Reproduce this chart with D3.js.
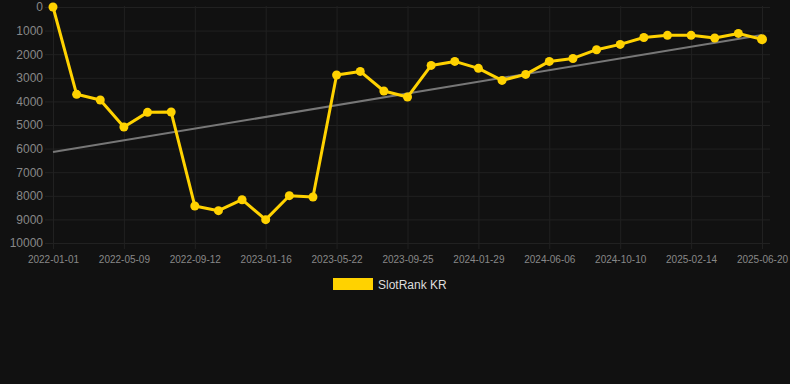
<!DOCTYPE html>
<html>
<head>
<meta charset="utf-8">
<script src="https://cdn.jsdelivr.net/npm/d3@7"></script>
<style>
html, body { margin: 0; padding: 0; background: #111111; }
svg { display: block; font-family: "Liberation Sans", Arial, Helvetica, sans-serif; }
</style>
</head>
<body>
<svg id="chart" width="790" height="384"></svg>
<script>
const dates = [
  "2022-01-01","2022-02-12","2022-03-26","2022-05-09","2022-06-20","2022-08-01",
  "2022-09-12","2022-10-24","2022-12-05","2023-01-16","2023-02-27","2023-04-10",
  "2023-05-22","2023-07-03","2023-08-14","2023-09-25","2023-11-06","2023-12-18",
  "2024-01-29","2024-03-11","2024-04-22","2024-06-06","2024-07-18","2024-08-29",
  "2024-10-10","2024-11-21","2025-01-02","2025-02-14","2025-03-28","2025-05-09",
  "2025-06-20"
];
const ranks = [
  0, 3700, 3940, 5085, 4465, 4450,
  8430, 8630, 8165, 9010, 7995, 8050,
  2880, 2730, 3560, 3815, 2475, 2305,
  2600, 3110, 2855, 2305, 2180, 1810,
  1585, 1290, 1200, 1200, 1315, 1120,
  1370
];
const xTickLabels = ["2022-01-01","2022-05-09","2022-09-12","2023-01-16","2023-05-22",
  "2023-09-25","2024-01-29","2024-06-06","2024-10-10","2025-02-14","2025-06-20"];
const yTicks = [0,1000,2000,3000,4000,5000,6000,7000,8000,9000,10000];
const seriesName = "SlotRank KR";

(function () {
const svg = d3.select("#chart");
const mLeft = 53, mRight = 762, mTop = 7, mBottom = 243;
const x = d3.scalePoint().domain(dates).range([mLeft, mRight]);
const y = d3.scaleLinear().domain([0, 10000]).range([mTop, mBottom]);

const gridColor = "#212121";
const labelColor = "#888888";
const lineColor = "#ffd200";

// horizontal grid
const yAxis = d3.axisLeft(y).tickValues(yTicks).tickSize(0).tickPadding(0).tickFormat(d3.format("d"));
const gy = svg.append("g").attr("transform", "translate(45,0)").call(yAxis);
gy.select(".domain").remove();
gy.selectAll(".tick line").attr("stroke", gridColor).attr("x1", 0).attr("x2", 770 - 45);
gy.selectAll(".tick text").attr("fill", labelColor).attr("font-size", 12).attr("x", -2);

// vertical grid
const xAxis = d3.axisBottom(x).tickValues(xTickLabels).tickSize(0).tickPadding(0);
const gx = svg.append("g").attr("transform", `translate(0,${mBottom})`).call(xAxis);
gx.select(".domain").remove();
gx.selectAll(".tick line").attr("stroke", gridColor).attr("y1", -(mBottom - mTop) - 1).attr("y2", 6);
gx.selectAll(".tick text").attr("fill", labelColor).attr("font-size", 10).attr("dy", 0).attr("y", 20);

// trend line (least squares)
const n = ranks.length;
const idx = d3.range(n);
const mx = d3.mean(idx), my = d3.mean(ranks);
const slope = d3.sum(idx, i => (i - mx) * (ranks[i] - my)) / d3.sum(idx, i => (i - mx) ** 2);
const icpt = my - slope * mx;
svg.append("line")
  .attr("x1", x(dates[0])).attr("y1", y(icpt))
  .attr("x2", x(dates[n - 1])).attr("y2", y(icpt + slope * (n - 1)))
  .attr("stroke", "#777777").attr("stroke-width", 2);

// series line
const line = d3.line().x((d, i) => x(dates[i])).y(d => y(d));
svg.append("path").datum(ranks).attr("d", line)
  .attr("fill", "none").attr("stroke", lineColor).attr("stroke-width", 3)
  .attr("stroke-linejoin", "round");

svg.append("g").selectAll("circle").data(ranks).join("circle")
  .attr("cx", (d, i) => x(dates[i])).attr("cy", d => y(d))
  .attr("r", (d, i) => i === n - 1 ? 5 : 4.5)
  .attr("fill", lineColor);

// legend
svg.append("rect").attr("x", 333).attr("y", 278).attr("width", 40).attr("height", 12).attr("fill", lineColor);
svg.append("text").attr("x", 378).attr("y", 289).attr("fill", "#dddddd").attr("font-size", 12).text(seriesName);
})();
</script>
</body>
</html>
